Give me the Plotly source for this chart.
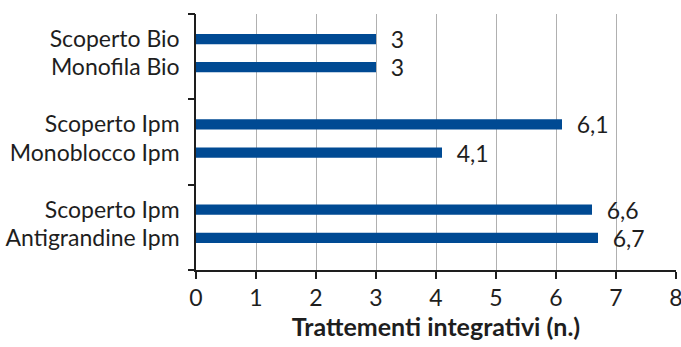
import plotly.graph_objects as go

categories = ["Scoperto Bio", "Monofila Bio", "Scoperto Ipm", "Monoblocco Ipm", "Scoperto Ipm", "Antigrandine Ipm"]
values = [3, 3, 6.1, 4.1, 6.6, 6.7]
groups = [0, 0, 1, 1, 2, 2]
slot = [0.88, 1.87, 0.88, 1.87, 0.88, 1.87]
x_ticks = [0, 1, 2, 3, 4, 5, 6, 7, 8]
x_title = "Trattementi integrativi (n.)"

ypos = [3 * g + s for g, s in zip(groups, slot)]
labels = [("%g" % v).replace(".", ",") for v in values]

FONT = "Lato, Open Sans, sans-serif"
BLUE = "#004a93"
INK = "#1e1e1e"

fig = go.Figure()
fig.add_trace(go.Bar(
    x=values, y=ypos, orientation="h", width=0.36,
    marker=dict(color=BLUE, line=dict(width=0)),
    text=labels, texttemplate="  %{text}", textposition="outside",
    constraintext="none",
    textfont=dict(family=FONT, size=23, color=INK),
    cliponaxis=False, hoverinfo="skip", showlegend=False,
))
# invisible trace to show group separator ticks
fig.add_trace(go.Scatter(x=[0], y=[0], yaxis="y2", mode="markers",
                         marker=dict(opacity=0), showlegend=False, hoverinfo="skip"))

fig.update_layout(
    width=681, height=347,
    margin=dict(l=196, r=5, t=14, b=77, autoexpand=False),
    paper_bgcolor="white", plot_bgcolor="white",
    separators=",.",
    xaxis=dict(
        range=[0, 8], tickvals=x_ticks, showgrid=True, gridcolor="#b0b0b0", gridwidth=1,
        zeroline=False, showline=True, linecolor=INK, linewidth=1.5, automargin=False,
        ticks="outside", ticklen=7, tickcolor=INK, tickwidth=1.5,
        ticklabeloverflow="allow",
        tickfont=dict(family=FONT, size=23, color=INK),
        title=dict(text="<b>" + x_title + "</b>", font=dict(family=FONT, size=25, color=INK), standoff=2),
    ),
    yaxis=dict(
        range=[9, 0], tickvals=ypos, ticktext=categories, ticks="", showgrid=False,
        zeroline=False, showline=True, linecolor=INK, linewidth=1.5, automargin=False,
        tickfont=dict(family=FONT, size=23, color=INK), ticklabelstandoff=10,
    ),
    yaxis2=dict(
        range=[9, 0], overlaying="y", side="left", tickvals=[0, 3, 6, 9],
        showticklabels=False, ticks="outside", ticklen=7, tickcolor=INK, tickwidth=1.5,
        showgrid=False, zeroline=False, showline=False, automargin=False,
    ),
)

fig.write_html("out.html")
